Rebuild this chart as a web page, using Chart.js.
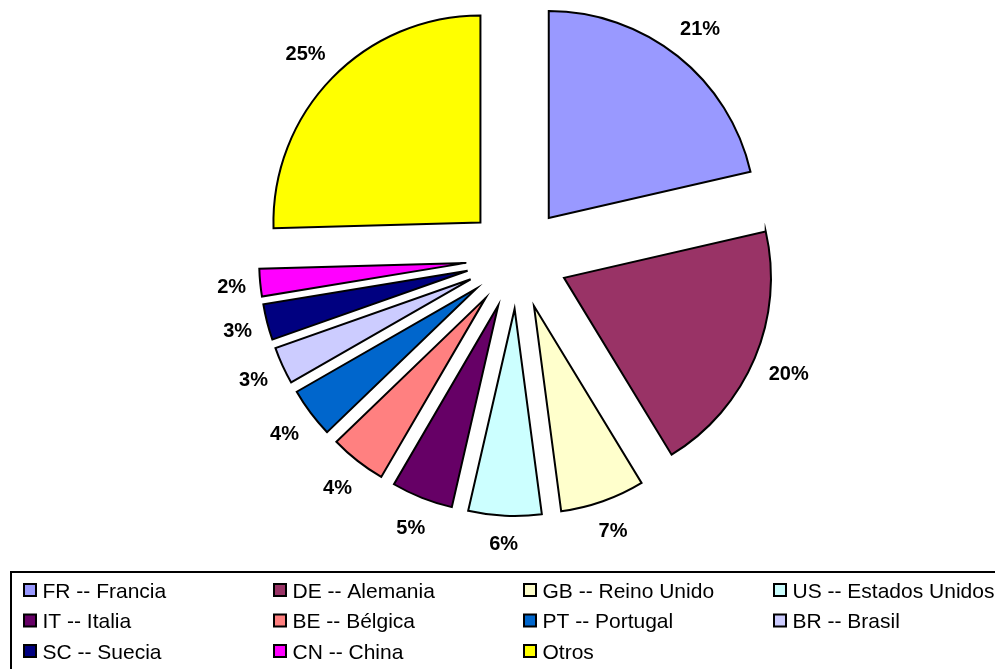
<!DOCTYPE html>
<html>
<head>
<meta charset="utf-8">
<script src="https://cdn.jsdelivr.net/npm/chart.js@4"></script>
<style>
  html, body { margin: 0; padding: 0; background: #fff; }
  #wrap { width: 995px; height: 669px; }
</style>
</head>
<body>
<div id="wrap"><canvas id="myChart" width="995" height="669"></canvas></div>
<script>
// data (share of each country, %)
let countries = ['FR -- Francia', 'DE -- Alemania', 'GB -- Reino Unido', 'US -- Estados Unidos',
    'IT -- Italia', 'BE -- Bélgica', 'PT -- Portugal', 'BR -- Brasil',
    'SC -- Suecia', 'CN -- China', 'Otros'];
let shares = [21.4, 19.9, 6.6, 5.7, 4.8, 4.4, 3.9, 2.9, 2.8, 2.15, 25.45];
let sliceColors = ['#9999FF', '#993366', '#FFFFCC', '#CCFFFF', '#660066', '#FF8080',
    '#0066CC', '#CCCCFF', '#000080', '#FF00FF', '#FFFF00'];

const EXPLODE = 51;      // how far each slice is pulled out
const LABEL_GAP = 12;    // gap between slice edge and the label box
const LABEL_FONT = 20;
const LEGEND_FONT = 21;

// draw slices pulled out from the centre + the % labels
const explodePlugin = {
    id: 'explode',
    beforeDatasetDraw(chart, args) {
        let ctx = chart.ctx;
        args.meta.data.forEach(function(arc) {
            let mid = (arc.startAngle + arc.endAngle) / 2;
            ctx.save();
            ctx.translate(Math.cos(mid) * EXPLODE, Math.sin(mid) * EXPLODE);
            arc.draw(ctx);
            ctx.restore();
        });
        return false;
    },
    afterDatasetsDraw(chart) {
        let ctx = chart.ctx;
        let data = chart.data.datasets[0].data;
        let total = data.reduce(function(a, b) { return a + b; }, 0);
        ctx.save();
        ctx.font = 'bold ' + LABEL_FONT + 'px "Liberation Sans", Arial, sans-serif';
        ctx.fillStyle = '#000';
        ctx.textAlign = 'center';
        ctx.textBaseline = 'alphabetic';
        chart.getDatasetMeta(0).data.forEach(function(arc, i) {
            let mid = (arc.startAngle + arc.endAngle) / 2;
            let pct = Math.round(data[i] / total * 100) + '%';
            let w = ctx.measureText(pct).width;
            let cx = Math.cos(mid), cy = Math.sin(mid);
            // label box sits just outside the slice
            let r = arc.outerRadius + EXPLODE + LABEL_GAP + (w / 2 + 1) * Math.abs(cx) + 14 * Math.abs(cy);
            ctx.fillText(pct, arc.x + cx * r, arc.y + cy * r + LABEL_FONT * 0.358);
        });
        ctx.restore();
    }
};

// boxed legend, 4 columns
const boxLegend = {
    id: 'boxLegend',
    afterDraw(chart) {
        let ctx = chart.ctx;
        let colors = chart.data.datasets[0].backgroundColor;
        ctx.save();
        ctx.lineWidth = 2;
        ctx.strokeStyle = '#000';
        ctx.strokeRect(11, 572, 1100, 200);
        ctx.font = LEGEND_FONT + 'px "Liberation Sans", Arial, sans-serif';
        ctx.textBaseline = 'alphabetic';
        ctx.textAlign = 'left';
        chart.data.labels.forEach(function(label, i) {
            let col = i % 4;
            let row = Math.floor(i / 4);
            let x = 24 + col * 250;
            let y = 590 + row * 30.5;
            ctx.fillStyle = colors[i];
            ctx.fillRect(x, y - 6, 12, 12);
            ctx.strokeRect(x, y - 6, 12, 12);
            ctx.fillStyle = '#000';
            ctx.fillText(label, x + 18.5, y + LEGEND_FONT * 0.358);
        });
        ctx.restore();
    }
};

let ctx = document.getElementById('myChart').getContext('2d');
let myChart = new Chart(ctx, {
    type: 'pie',
    data: {
        labels: countries,
        datasets: [{
            data: shares,
            backgroundColor: sliceColors,
            borderColor: '#000',
            borderWidth: 2,
            borderJoinStyle: 'miter'
        }]
    },
    options: {
        responsive: false,
        animation: false,
        radius: 207,
        layout: {
            padding: { left: 39, right: 0, top: 0, bottom: 153 }
        },
        plugins: {
            legend: { display: false },
            tooltip: { enabled: false }
        }
    },
    plugins: [explodePlugin, boxLegend]
});
</script>
</body>
</html>
